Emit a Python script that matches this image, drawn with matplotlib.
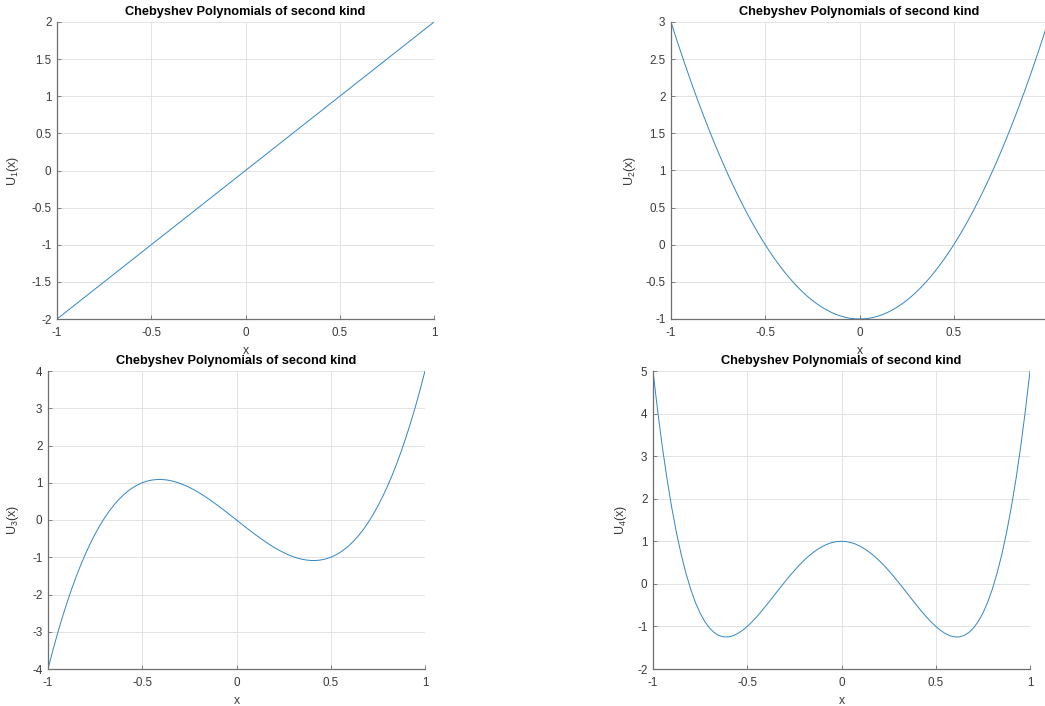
import matplotlib
matplotlib.use("Agg")
import matplotlib.pyplot as plt

# sample points (step 0.025)
x = [-1.0, -0.975, -0.95, -0.925, -0.9, -0.875, -0.85, -0.825, -0.8, -0.775,
     -0.75, -0.725, -0.7, -0.675, -0.65, -0.625, -0.6, -0.575, -0.55, -0.525,
     -0.5, -0.475, -0.45, -0.425, -0.4, -0.375, -0.35, -0.325, -0.3, -0.275,
     -0.25, -0.225, -0.2, -0.175, -0.15, -0.125, -0.1, -0.075, -0.05, -0.025,
     0.0, 0.025, 0.05, 0.075, 0.1, 0.125, 0.15, 0.175, 0.2, 0.225,
     0.25, 0.275, 0.3, 0.325, 0.35, 0.375, 0.4, 0.425, 0.45, 0.475,
     0.5, 0.525, 0.55, 0.575, 0.6, 0.625, 0.65, 0.675, 0.7, 0.725,
     0.75, 0.775, 0.8, 0.825, 0.85, 0.875, 0.9, 0.925, 0.95, 0.975, 1.0]

u1 = [-2.0, -1.95, -1.9, -1.85, -1.8, -1.75, -1.7, -1.65, -1.6, -1.55,
      -1.5, -1.45, -1.4, -1.35, -1.3, -1.25, -1.2, -1.15, -1.1, -1.05,
      -1.0, -0.95, -0.9, -0.85, -0.8, -0.75, -0.7, -0.65, -0.6, -0.55,
      -0.5, -0.45, -0.4, -0.35, -0.3, -0.25, -0.2, -0.15, -0.1, -0.05,
      0.0, 0.05, 0.1, 0.15, 0.2, 0.25, 0.3, 0.35, 0.4, 0.45,
      0.5, 0.55, 0.6, 0.65, 0.7, 0.75, 0.8, 0.85, 0.9, 0.95,
      1.0, 1.05, 1.1, 1.15, 1.2, 1.25, 1.3, 1.35, 1.4, 1.45,
      1.5, 1.55, 1.6, 1.65, 1.7, 1.75, 1.8, 1.85, 1.9, 1.95, 2.0]

u2 = [3.0, 2.8025, 2.61, 2.4225, 2.24, 2.0625, 1.89, 1.7225, 1.56, 1.4025,
      1.25, 1.1025, 0.96, 0.8225, 0.69, 0.5625, 0.44, 0.3225, 0.21, 0.1025,
      0.0, -0.0975, -0.19, -0.2775, -0.36, -0.4375, -0.51, -0.5775, -0.64, -0.6975,
      -0.75, -0.7975, -0.84, -0.8775, -0.91, -0.9375, -0.96, -0.9775, -0.99, -0.9975,
      -1.0, -0.9975, -0.99, -0.9775, -0.96, -0.9375, -0.91, -0.8775, -0.84, -0.7975,
      -0.75, -0.6975, -0.64, -0.5775, -0.51, -0.4375, -0.36, -0.2775, -0.19, -0.0975,
      0.0, 0.1025, 0.21, 0.3225, 0.44, 0.5625, 0.69, 0.8225, 0.96, 1.1025,
      1.25, 1.4025, 1.56, 1.7225, 1.89, 2.0625, 2.24, 2.4225, 2.61, 2.8025, 3.0]

u3 = [-4.0, -3.515, -3.059, -2.632, -2.232, -1.859, -1.513, -1.192, -0.896, -0.624,
      -0.375, -0.149, 0.056, 0.240, 0.403, 0.547, 0.672, 0.779, 0.869, 0.942,
      1.0, 1.043, 1.071, 1.086, 1.088, 1.078, 1.057, 1.025, 0.984, 0.934,
      0.875, 0.809, 0.736, 0.657, 0.573, 0.484, 0.392, 0.297, 0.199, 0.100,
      0.0, -0.100, -0.199, -0.297, -0.392, -0.484, -0.573, -0.657, -0.736, -0.809,
      -0.875, -0.934, -0.984, -1.025, -1.057, -1.078, -1.088, -1.086, -1.071, -1.043,
      -1.0, -0.942, -0.869, -0.779, -0.672, -0.547, -0.403, -0.240, -0.056, 0.149,
      0.375, 0.624, 0.896, 1.192, 1.513, 1.859, 2.232, 2.632, 3.059, 3.515, 4.0]

u4 = [5.0, 4.052, 3.202, 2.446, 1.778, 1.191, 0.682, 0.245, -0.126, -0.436,
      -0.688, -0.887, -1.038, -1.146, -1.214, -1.246, -1.246, -1.219, -1.166, -1.092,
      -1.0, -0.893, -0.774, -0.646, -0.510, -0.371, -0.230, -0.089, 0.050, 0.184,
      0.313, 0.434, 0.546, 0.648, 0.738, 0.816, 0.882, 0.933, 0.970, 0.993,
      1.0, 0.993, 0.970, 0.933, 0.882, 0.816, 0.738, 0.648, 0.546, 0.434,
      0.313, 0.184, 0.050, -0.089, -0.230, -0.371, -0.510, -0.646, -0.774, -0.893,
      -1.0, -1.092, -1.166, -1.219, -1.246, -1.246, -1.214, -1.146, -1.038, -0.887,
      -0.688, -0.436, -0.126, 0.245, 0.682, 1.191, 1.778, 2.446, 3.202, 4.052, 5.0]

series = [u1, u2, u3, u4]
ylabels = [r'U$_{\mathregular{1}}$(x)', r'U$_{\mathregular{2}}$(x)',
           r'U$_{\mathregular{3}}$(x)', r'U$_{\mathregular{4}}$(x)']
ylims = [(-2, 2), (-1, 3), (-4, 4), (-2, 5)]
yticks = [[-2, -1.5, -1, -0.5, 0, 0.5, 1, 1.5, 2],
          [-1, -0.5, 0, 0.5, 1, 1.5, 2, 2.5, 3],
          [-4, -3, -2, -1, 0, 1, 2, 3, 4],
          [-2, -1, 0, 1, 2, 3, 4, 5]]
xticks = [-1, -0.5, 0, 0.5, 1]
xticklabels = ['-1', '-0.5', '0', '0.5', '1']
title = 'Chebyshev Polynomials of second kind'

plt.rcParams['font.family'] = ['Liberation Sans', 'DejaVu Sans']

W, H = 1045, 706
fig = plt.figure(figsize=(W / 100, H / 100), dpi=100)

# pixel boxes: left, top, right, bottom (screenshot montage, uneven)
boxes = [(57, 22, 434, 319), (671, 22, 1048, 319),
         (48, 371, 425, 669), (653, 371, 1030, 669)]
ylab_off = [-36, -33, -27, -24]

tc = '#3a3a3a'
for i in range(4):
    l, t, r, b = boxes[i]
    ax = fig.add_axes([l / W, 1 - b / H, (r - l) / W, (b - t) / H])
    ax.plot(x, series[i], color='#2f86c6', lw=0.7)
    ax.set_xlim(-1, 1)
    ax.set_ylim(*ylims[i])
    ax.set_xticks(xticks)
    labs = list(xticklabels)
    if i == 1:
        labs[-1] = ''  # cropped off in the screenshot
    ax.set_xticklabels(labs)
    ax.set_yticks(yticks[i])
    ax.set_yticklabels(['%g' % v for v in yticks[i]])
    ax.grid(True, color='#e3e3e3', lw=0.7)
    ax.set_axisbelow(True)
    for s in ['top', 'right']:
        ax.spines[s].set_visible(False)
    for s in ['left', 'bottom']:
        ax.spines[s].set_color('#6e6e6e')
        ax.spines[s].set_linewidth(0.9)
    ax.tick_params(direction='in', length=3, width=0.6, colors='#6e6e6e',
                   labelcolor=tc, labelsize=8.4)
    ax.tick_params(axis='x', pad=6)
    ax.tick_params(axis='y', pad=4)
    ax.set_title(title, fontsize=9.2, fontweight='bold', pad=5)
    ax.set_xlabel('x', fontsize=8.8, color=tc)
    ax.xaxis.set_label_coords(0.5, -0.088)
    ax.set_ylabel(ylabels[i], fontsize=9, color=tc)
    ax.yaxis.set_label_coords(ylab_off[i] / (r - l), 0.5)

fig.savefig('out.png', dpi=100)
